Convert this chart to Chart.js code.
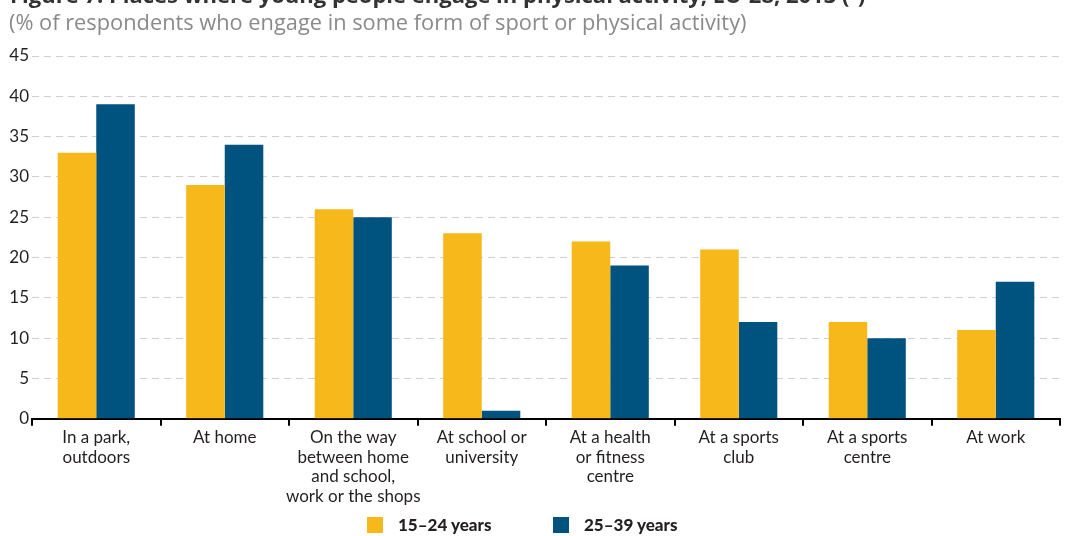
<!DOCTYPE html>
<html>
<head>
<meta charset="utf-8">
<script src="https://cdn.jsdelivr.net/npm/chart.js@4"></script>
<style>
  html, body { margin: 0; padding: 0; background: #fff; overflow: hidden; }
  #wrap { position: relative; width: 1069px; height: 536px; }
  #title { position: absolute; left: 10px; top: -21px; font: bold 22px "Open Sans", sans-serif; color: #333; white-space: nowrap; }
  #subtitle { position: absolute; left: 9px; top: 7px; font: 21.8px "Open Sans", sans-serif; color: #8a8a8a; white-space: nowrap; }
  canvas { position: absolute; left: 0; top: 0; }
  .key { position: absolute; top: 517px; font: bold 17px Lato, sans-serif; color: #231f20; white-space: nowrap; line-height: 16px; }
  .key span { display: inline-block; width: 16px; height: 16px; vertical-align: top; margin-right: 15px; }
</style>
</head>
<body>
<div id="wrap">
  <canvas id="sportChart" width="1069" height="536"></canvas>
  <div id="title">Figure 7: Places where young people engage in physical activity, EU-28, 2013 (¹)</div>
  <div id="subtitle">(% of respondents who engage in some form of sport or physical activity)</div>
  <div class="key" id="key0" style="left:367px"><span></span><b></b></div>
  <div class="key" id="key1" style="left:553px"><span></span><b></b></div>
</div>
<script>
// Places of activity (x axis)
const places = [
  ["In a park,", "outdoors"],
  ["At home"],
  ["On the way", "between home", "and school,", "work or the shops"],
  ["At school or", "university"],
  ["At a health", "or fitness", "centre"],
  ["At a sports", "club"],
  ["At a sports", "centre"],
  ["At work"]
];

// Share of respondents, %
const young = [33, 29, 26, 23, 22, 21, 12, 11];   // 15-24 years
const older = [39, 34, 25, 1, 19, 12, 10, 17];    // 25-39 years

const seriesNames = ["15–24 years", "25–39 years"];
const seriesColors = ["#f6b81b", "#00527f"];
const yTicks = [0, 5, 10, 15, 20, 25, 30, 35, 40, 45];

document.addEventListener("DOMContentLoaded", function () {
  const ctx = document.getElementById("sportChart").getContext("2d");

  const chart = new Chart(ctx, {
    type: "bar",
    data: {
      labels: places,
      datasets: [
        {
          label: seriesNames[0],
          data: young,
          backgroundColor: seriesColors[0],
          categoryPercentage: 0.6,
          barPercentage: 1.0,
        },
        {
          label: seriesNames[1],
          data: older,
          backgroundColor: seriesColors[1],
          categoryPercentage: 0.6,
          barPercentage: 1.0,
        },
      ],
    },
    options: {
      responsive: false,
      animation: false,
      layout: { padding: { top: 56, right: 9, left: 0, bottom: 28 } },
      plugins: {
        tooltip: { enabled: false },
        legend: { display: false },
      },
      scales: {
        x: {
          grid: {
            offset: true,
            drawOnChartArea: false,
            drawTicks: true,
            tickLength: 7,
            color: "#000",
            lineWidth: 2,
          },
          border: { display: true, color: "#000", width: 2 },
          ticks: {
            color: "#231f20",
            maxRotation: 0,
            autoSkip: false,
            padding: 2,
            font: { family: "Lato, sans-serif", size: 17, lineHeight: 1.15 },
          },
        },
        y: {
          min: 0,
          max: 45,
          afterBuildTicks: function (axis) {
            axis.ticks = yTicks.map((v) => ({ value: v }));
          },
          afterFit: function (axis) {
            axis.width = 32;
          },
          grid: {
            color: "#cfcfcf",
            lineWidth: 1,
            drawTicks: false,
          },
          border: { display: false, dash: [7, 5] },
          ticks: {
            color: "#231f20",
            padding: 3,
            font: { family: "Lato, sans-serif", size: 17 },
          },
        },
      },
    },
  });

  // Legend below the chart, built from the dataset names and colours
  chart.data.datasets.forEach(function (ds, i) {
    const key = document.getElementById("key" + i);
    key.querySelector("span").style.background = ds.backgroundColor;
    key.querySelector("b").textContent = ds.label;
  });
});
</script>
</body>
</html>
